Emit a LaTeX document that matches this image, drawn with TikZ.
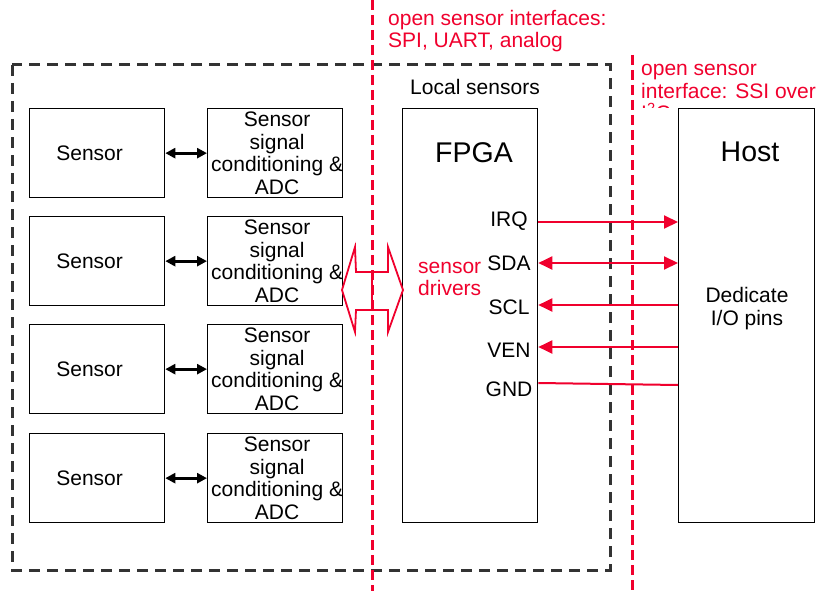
\documentclass[tikz,border=0pt]{standalone}
\usepackage{fontspec}
\setmainfont{Liberation Sans}
\usetikzlibrary{arrows.meta,calc}
\definecolor{sigred}{RGB}{240,0,45}
\definecolor{framegray}{RGB}{51,51,51}

\begin{document}
\begin{tikzpicture}[x=1pt,y=-1pt,
  blk/.style={draw=black, line width=1.3pt, fill=white, minimum width=135pt,
              minimum height=89pt, inner sep=0pt, anchor=north west},
  txt/.style={font=\fontsize{21}{22.5}\selectfont, align=center, inner sep=0pt},
  redtxt/.style={txt, text=sigred, align=left},
  big/.style={font=\fontsize{28.5}{30}\selectfont, inner sep=0pt},
  bus/.style={draw=sigred, line width=2pt},
  redtip/.tip={Triangle[length=14pt,width=13pt]},
  blacktip/.tip={Triangle[length=10pt,width=10pt]},
  link/.style={draw=black, line width=3pt, blacktip-blacktip},
  frame/.style={draw=framegray, line width=3pt, dash pattern=on 11pt off 7pt},
  divider/.style={draw=sigred, line width=3pt, dash pattern=on 10pt off 5pt}
]
\useasboundingbox (0,0) rectangle (816,591);

% local sensor subsystem frame
\draw[frame] (12,65) rectangle (610,570);

% interface boundaries
\coordinate (d1top) at (372,0);
\coordinate (d1bot) at (372,591);
\coordinate (d2top) at (632,55);
\coordinate (d2bot) at (632,591);
\draw[divider] (d1top) -- (d1bot);
\draw[divider] (d2top) -- (d2bot);

% captions
\node[redtxt, anchor=west] (cap1) at (388,31) {open sensor interfaces:\\SPI, UART, analog};
\begin{scope}
  \clip (636,50) rectangle (816,107.5);
  \node[redtxt, anchor=west] (cap2) at (641,92.5) {open sensor\\interface: SSI over\\I\textsuperscript{2}C};
\end{scope}
\node[txt] (loc) at (475,87) {Local sensors};

% sensor chains
\foreach \i/\y in {1/108, 2/216, 3/324, 4/433} {
  \node[blk] (s\i) at (29,\y) {};
  \node[txt] at ([xshift=-7.5pt]s\i.center) {Sensor};
  \node[blk] (c\i) at (207,\y) {};
  \node[txt] at ([xshift=2pt]c\i.center) {Sensor\\signal\\conditioning \&\\ADC};
  \draw[link] (s\i.east) -- (c\i.west);
}

% FPGA and host
\node[blk, minimum width=135pt, minimum height=414pt] (fpga) at (402,108) {};
\node[blk, minimum width=136pt, minimum height=414pt] (host) at (678,108) {};
\node[big] at (474,153) {FPGA};
\node[big] at (750,152) {Host};
\node[txt] at (747,308.5) {Dedicate\\I/O pins};
\node[redtxt, anchor=west] at (418,279) {sensor\\drivers};

% pin labels
\foreach \p/\y in {IRQ/221, SDA/263, SCL/307, VEN/350, GND/389}
  \node[txt] at (509,\y) {\p};

% host signal lines
\coordinate (yirq) at (0,222);
\coordinate (ysda) at (0,263);
\coordinate (yscl) at (0,305);
\coordinate (yven) at (0,347);
\coordinate (ygnda) at (0,383);
\coordinate (ygndb) at (0,385);
\draw[bus, -redtip] (fpga.east |- yirq) -- (host.west |- yirq);
\draw[bus, redtip-redtip] (fpga.east |- ysda) -- (host.west |- ysda);
\draw[bus, redtip-] (fpga.east |- yscl) -- (host.west |- yscl);
\draw[bus, redtip-] (fpga.east |- yven) -- (host.west |- yven);
\draw[bus] (fpga.east |- ygnda) -- (host.west |- ygndb);

% hollow double arrow between conditioning stage and FPGA
\draw[sigred, line width=1.8pt, line join=miter]
  (342,290) -- (355,247) -- (356,272) -- (388,272) -- (388,247) -- (403,290)
  -- (388,332) -- (388,310) -- (356,310) -- (355,332) -- cycle;
\draw[sigred, line width=1.5pt] (372,272) -- (372,310);
\end{tikzpicture}
\end{document}
